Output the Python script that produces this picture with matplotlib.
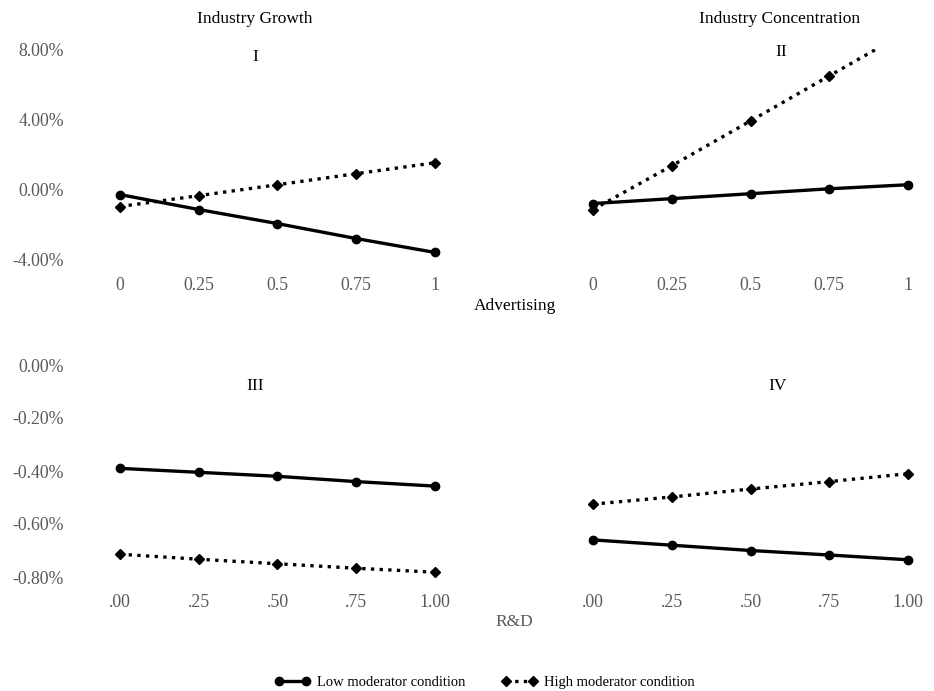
import numpy as np
import matplotlib
matplotlib.use('Agg')
import matplotlib.pyplot as plt
from matplotlib.lines import Line2D
from matplotlib.ticker import FuncFormatter

plt.rcParams['font.family'] = ['Liberation Serif', 'DejaVu Serif']

x = [0, 0.25, 0.5, 0.75, 1]
top_xlabels = ['0', '0.25', '0.5', '0.75', '1']
bot_xlabels = ['.00', '.25', '.50', '.75', '1.00']

# values in percent
growth_low = [-0.28, -1.13, -1.93, -2.78, -3.57]
growth_high = [-0.96, -0.34, 0.28, 0.91, 1.53]
conc_low = [-0.79, -0.51, -0.23, 0.05, 0.28]
conc_high = [-1.13, 1.36, 3.91, 6.47, 9.02]
rd_growth_low = [-0.39, -0.405, -0.42, -0.44, -0.457]
rd_growth_high = [-0.714, -0.733, -0.75, -0.767, -0.782]
rd_conc_low = [-0.66, -0.68, -0.70, -0.717, -0.735]
rd_conc_high = [-0.525, -0.498, -0.468, -0.44, -0.41]

W, H = 934, 691
fig = plt.figure(figsize=(W / 100, H / 100), dpi=100)

gray = '#595959'
dot = (0, (1, 1.6))


def make_ax(x0, top_px, bot_px, ylim, yticks, xlabels, fmt, showy):
    # x0 = pixel of x=0 ; 1 unit = 315 px
    left = x0 - 0.08 * 315
    width = 1.16 * 315
    ax = fig.add_axes([left / W, 1 - bot_px / H, width / W, (bot_px - top_px) / H])
    ax.set_xlim(-0.08, 1.08)
    ax.set_ylim(*ylim)
    ax.set_yticks(yticks)
    ax.yaxis.set_major_formatter(FuncFormatter(lambda v, p: fmt % v))
    ax.set_xticks(x)
    ax.set_xticklabels(xlabels)
    for s in ax.spines.values():
        s.set_visible(False)
    ax.tick_params(length=0, labelsize=12.8, colors=gray, pad=12)
    ax.tick_params(axis='y', pad=22)
    if not showy:
        ax.set_yticklabels([])
    return ax


def draw(ax, low, high):
    ax.plot(x, low, color='black', lw=2.4, marker='o', ms=6, clip_on=True)
    ax.plot(x, high, color='black', lw=2.4, ls=dot, marker='D', ms=5, clip_on=True)


a1 = make_ax(120, 49, 260, (-4, 8), [-4, 0, 4, 8], top_xlabels, '%.2f%%', True)
draw(a1, growth_low, growth_high)
a2 = make_ax(593, 49, 260, (-4, 8), [-4, 0, 4, 8], top_xlabels, '%.2f%%', False)
draw(a2, conc_low, conc_high)
a3 = make_ax(120, 365, 577, (-0.8, 0), [-0.8, -0.6, -0.4, -0.2, 0], bot_xlabels, '%.2f%%', True)
draw(a3, rd_growth_low, rd_growth_high)
a4 = make_ax(593, 365, 577, (-0.8, 0), [-0.8, -0.6, -0.4, -0.2, 0], bot_xlabels, '%.2f%%', False)
draw(a4, rd_conc_low, rd_conc_high)


def ftext(px, py, s, **kw):
    fig.text(px / W, 1 - py / H, s, ha='center', va='center', fontsize=12.5, **kw)


ftext(255, 19, 'Industry Growth')
ftext(780, 19, 'Industry Concentration')
ftext(255, 57, 'I')
ftext(781, 52, 'II')
ftext(255, 386, 'III')
ftext(778, 386, 'IV')
ftext(515, 306, 'Advertising')
ftext(514, 622, 'R&D', color=gray)

handles = [
    Line2D([], [], color='black', lw=2.4, marker='o', ms=6),
    Line2D([], [], color='black', lw=2.4, ls=dot, marker='D', ms=5),
]
fig.legend(handles, ['Low moderator condition', 'High moderator condition'],
           loc='center', bbox_to_anchor=(485 / W, 1 - 682 / H), ncol=2,
           frameon=False, fontsize=10.5, numpoints=2, handlelength=2.4,
           columnspacing=2.5, handletextpad=0.5)

fig.savefig('out.png', dpi=100)
